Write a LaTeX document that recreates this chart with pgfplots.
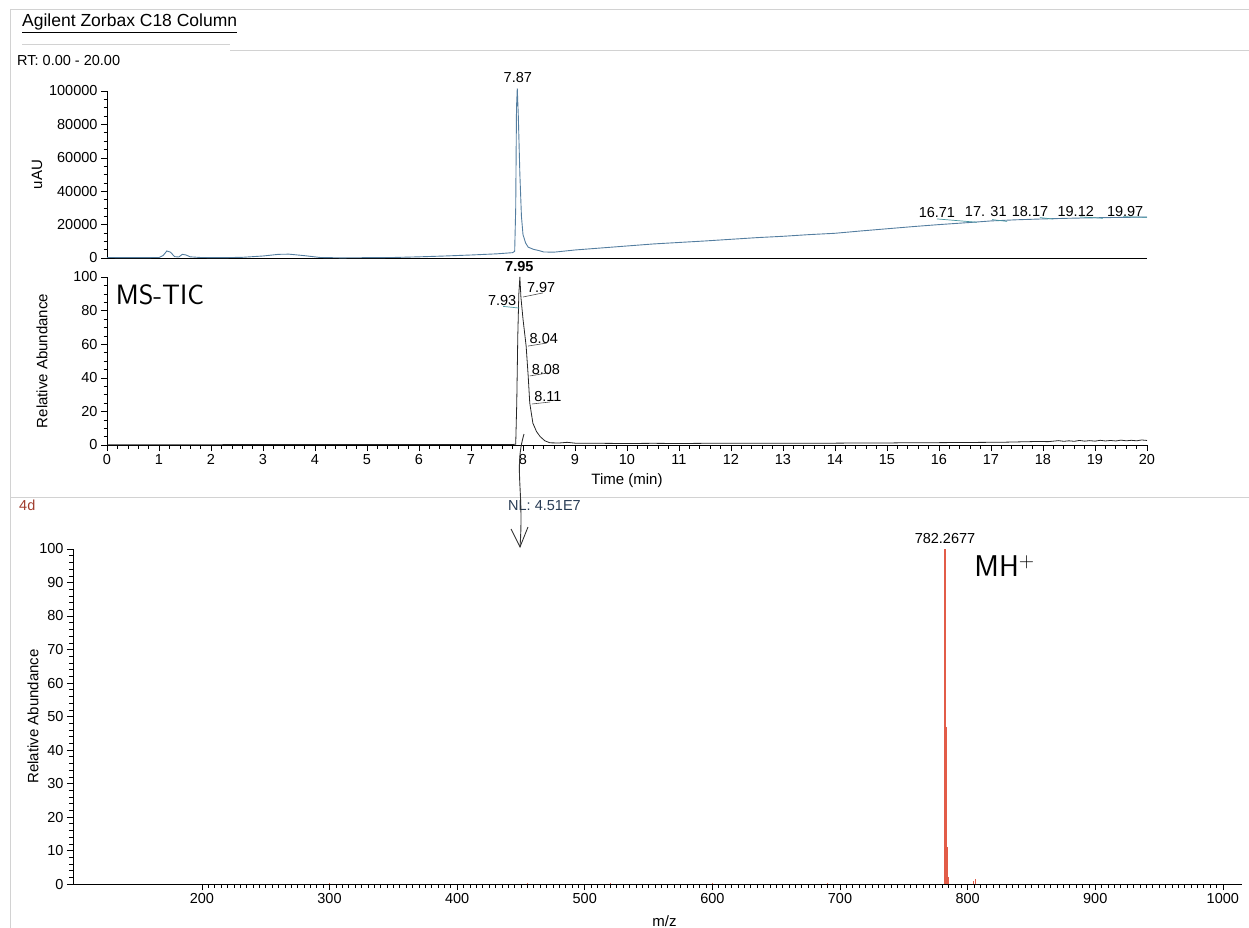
\documentclass[border=0pt]{standalone}
\usepackage{fontspec}
\setmainfont{Liberation Sans}
\usepackage{pgfplots}
\pgfplotsset{compat=1.18}
\definecolor{uvblue}{RGB}{84,126,160}
\definecolor{pkteal}{RGB}{70,150,160}
\definecolor{msred}{RGB}{226,92,72}
\definecolor{fdred}{RGB}{160,60,45}
\definecolor{nlblue}{RGB}{40,60,85}
\definecolor{sep}{RGB}{210,210,210}
\pgfplotsset{
 chrom/.style={
  scale only axis,
  axis x line*=bottom, axis y line*=left,
  axis line style={black, line width=0.8pt},
  tick align=outside,
  tick style={black, line width=0.6pt},
  major tick length=6pt, minor tick length=3.5pt,
  tick label style={font=\fontsize{14.5}{14.5}\selectfont},
  label style={font=\fontsize{15}{15}\selectfont},
  /pgf/number format/assume math mode=true,
  /pgf/number format/1000 sep={},
  scaled ticks=false,
  clip=false,
 }
}
\begin{document}
\begin{tikzpicture}
\path[use as bounding box] (0pt,0pt) rectangle (1249pt,-928pt);
% page decorations
\draw[sep, line width=0.8pt] (10pt,-9pt) -- (1249pt,-9pt);
\draw[sep, line width=0.8pt] (10pt,-9pt) -- (10pt,-928pt);
\draw[sep, line width=0.8pt] (22pt,-44pt) -- (230pt,-44pt);
\draw[sep, line width=0.8pt] (230pt,-50pt) -- (1249pt,-50pt);
\draw[sep, line width=0.8pt] (10pt,-497pt) -- (1249pt,-497pt);
\node[anchor=base west, font=\fontsize{17.5}{17.5}\selectfont, inner sep=0pt] at (22pt,-27pt) {\underline{Agilent Zorbax C18 Column}};
\node[anchor=west, font=\fontsize{14.5}{14.5}\selectfont, inner sep=0pt] at (17pt,-61pt) {RT: 0.00 - 20.00};

% ---------- UV chromatogram ----------
\begin{axis}[chrom, at={(107pt,-258pt)}, anchor=south west,
  width=1040pt, height=167pt,
  xmin=0, xmax=20, ymin=0, ymax=100000,
  xtick=\empty,
  ytick={0,20000,40000,60000,80000,100000},
  yticklabels={0,20000,40000,60000,80000,100000},
  minor y tick num=3,
  ylabel={uAU},
  ylabel style={at={(axis description cs:-0.0673,0.5)}, anchor=center}]
\addplot[uvblue, line width=0.9pt] coordinates {
(0,300)(0.5,200)(1.0,300)(1.08,1500)(1.15,4200)(1.22,3500)(1.3,800)(1.38,600)
(1.45,2200)(1.52,1800)(1.6,700)(1.8,300)(2.2,200)(2.6,400)(3.0,1200)(3.3,2200)
(3.5,2300)(3.8,1400)(4.1,300)(4.5,100)(5,200)(5.5,300)(6,700)(6.5,1200)(7,1800)
(7.5,2500)(7.8,3200)(7.84,4000)(7.86,30000)(7.875,90000)(7.89,101500)(7.91,85000)
(7.94,50000)(7.97,25000)(8.0,14000)(8.05,9000)(8.1,6500)(8.2,5200)(8.3,4500)
(8.4,3600)(8.6,3500)(9,4800)(9.5,6000)(10,7200)(10.5,8400)(11,9300)(11.5,10200)
(12,11200)(12.5,12200)(13,13000)(13.5,14000)(14,14800)(14.5,16200)(15,17500)
(15.5,18800)(16,20000)(16.7,21500)(17,22200)(17.5,22900)(18,23400)(18.5,23800)
(19,24100)(19.5,24300)(20,24500)};
\node[font=\fontsize{14.5}{14.5}\selectfont] at (axis cs:7.90,107800) {7.87};
\node[font=\fontsize{14.5}{14.5}\selectfont] at (axis cs:15.96,27500) {16.71};
\node[font=\fontsize{14.5}{14.5}\selectfont] at (axis cs:16.90,28100) {17. 31};
\node[font=\fontsize{14.5}{14.5}\selectfont] at (axis cs:17.75,28100) {18.17};
\node[font=\fontsize{14.5}{14.5}\selectfont] at (axis cs:18.63,28100) {19.12};
\node[font=\fontsize{14.5}{14.5}\selectfont] at (axis cs:19.58,28100) {19.97};
\draw[pkteal, line width=0.7pt] (axis cs:15.96,23400) -- (axis cs:16.73,21400);
\draw[pkteal, line width=0.7pt] (axis cs:17.02,23000) -- (axis cs:17.31,21900);
\draw[pkteal, line width=0.7pt] (axis cs:17.94,24200) -- (axis cs:18.20,23300);
\draw[pkteal, line width=0.7pt] (axis cs:18.71,24600) -- (axis cs:19.15,23800);
\draw[pkteal, line width=0.7pt] (axis cs:19.54,24700) -- (axis cs:20.0,24400);
\end{axis}

% ---------- MS TIC ----------
\begin{axis}[chrom, at={(107pt,-445pt)}, anchor=south west,
  width=1040pt, height=168pt,
  xmin=0, xmax=20, ymin=0, ymax=100,
  xtick={0,1,...,20}, minor x tick num=4,
  ytick={0,20,40,60,80,100}, minor y tick num=3,
  xlabel={Time (min)}, ylabel={Relative Abundance},
  xlabel style={at={(axis description cs:0.5,-0.214)}, anchor=center},
  ylabel style={at={(axis description cs:-0.0625,0.5)}, anchor=center}]
\addplot[black!85, line width=0.8pt] coordinates {
(0,0.2)(2,0.2)(4,0.3)(6,0.3)(7.8,0.3)(7.86,0.5)(7.88,25)(7.90,65)(7.92,90)(7.94,100)
(7.96,88)(8.00,75)(8.06,59)(8.10,41)(8.13,25)(8.19,13)(8.26,8)(8.33,5)(8.42,2.5)
(8.52,1.3)(8.7,1.2)(8.85,1.6)(9.0,1.1)(9.5,1.0)(10,0.9)(10.5,1.0)(11,0.9)(11.5,1.0)
(12,1.0)(12.5,1.1)(13,1.0)(13.5,1.1)(14,1.1)(14.5,1.2)(15,1.2)(15.5,1.4)(16,1.4)
(16.5,1.5)(17,1.6)(17.3,1.7)(17.6,1.9)(17.9,2.1)(18.1,2.0)(18.3,2.6)(18.4,2.2)
(18.5,2.5)(18.6,2.2)(18.7,2.7)(18.8,2.3)(18.9,2.6)(19.0,2.3)(19.1,2.8)(19.2,2.4)
(19.3,2.7)(19.4,2.4)(19.5,2.9)(19.6,2.5)(19.7,2.8)(19.8,2.5)(19.9,3.0)(20,2.7)};
\node[font=\bfseries\fontsize{14.5}{14.5}\selectfont] at (axis cs:7.93,106.5) {7.95};
\node[font=\fontsize{14.5}{14.5}\selectfont] at (axis cs:7.60,86.3) {7.93};
\node[font=\fontsize{14.5}{14.5}\selectfont] at (axis cs:8.35,93.5) {7.97};
\node[font=\fontsize{14.5}{14.5}\selectfont] at (axis cs:8.40,63.1) {8.04};
\node[font=\fontsize{14.5}{14.5}\selectfont] at (axis cs:8.44,45.2) {8.08};
\node[font=\fontsize{14.5}{14.5}\selectfont] at (axis cs:8.48,28.6) {8.11};
\draw[pkteal, line width=0.7pt] (axis cs:7.62,82.5) -- (axis cs:7.93,81.5);
\draw[black!70, line width=0.6pt] (axis cs:8.00,88.1) -- (axis cs:8.38,90.5);
\draw[black!70, line width=0.6pt] (axis cs:8.10,58.9) -- (axis cs:8.46,60.7);
\draw[black!70, line width=0.6pt] (axis cs:8.13,41.1) -- (axis cs:8.48,42.9);
\draw[black!70, line width=0.6pt] (axis cs:8.17,24.4) -- (axis cs:8.52,25.6);
\end{axis}

% ---------- Mass spectrum ----------
\begin{axis}[chrom, at={(73pt,-884pt)}, anchor=south west,
  width=1169pt, height=335pt,
  xmin=99, xmax=1015, ymin=0, ymax=100,
  xtick={200,300,...,1000}, minor x tick num=19,
  ytick={0,10,...,100}, minor y tick num=4,
  xlabel={m/z}, ylabel={Relative Abundance},
  xlabel style={at={(axis description cs:0.506,-0.110)}, anchor=center},
  ylabel style={at={(axis description cs:-0.0342,0.5)}, anchor=center}]
\addplot[ycomb, msred, line width=1.2pt] coordinates {
(782.27,100)(783.27,47)(784.27,11)(785.27,2)(804.5,0.8)(806.2,1.5)
(455,0.4)(520,0.3)(600,0.3)(300,0.2)(690,0.3)};
\node[font=\fontsize{14.5}{14.5}\selectfont] at (axis cs:782.27,103) {782.2677};
\node[font=\sffamily\fontsize{30}{30}\selectfont] at (axis cs:829,95) {MH\textsuperscript{+}};
\end{axis}

% annotations
\node[font=\sffamily\fontsize{28}{28}\selectfont] at (160pt,-295pt) {MS-TIC};
\node[anchor=west, font=\fontsize{14.5}{14.5}\selectfont, text=fdred, inner sep=0pt] at (19pt,-505pt) {4d};
\node[anchor=west, font=\fontsize{14.5}{14.5}\selectfont, text=nlblue, inner sep=0pt] at (508pt,-506pt) {NL: 4.51E7};
\draw[black!80, line width=0.9pt] (524pt,-434pt) .. controls (514pt,-468pt) and (524pt,-490pt) .. (520pt,-547pt);
\draw[black!80, line width=0.9pt] (511pt,-529pt) -- (520pt,-547pt) -- (528pt,-527pt);
\end{tikzpicture}
\end{document}
